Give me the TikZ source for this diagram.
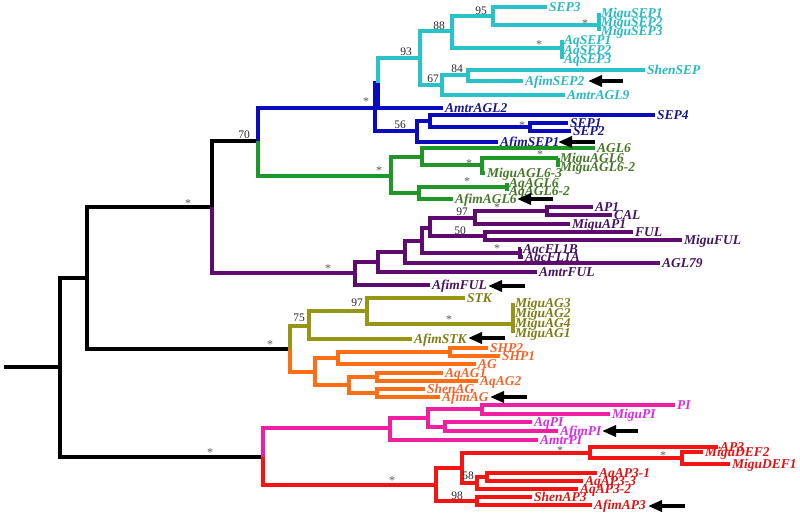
\documentclass[tikz,border=0pt]{standalone}
\usepackage{fontspec}
\setmainfont{Liberation Serif}
\usetikzlibrary{arrows.meta}
\definecolor{cyL}{RGB}{40,195,200}
\definecolor{cyT}{RGB}{40,185,195}
\definecolor{blL}{RGB}{10,10,190}
\definecolor{blT}{RGB}{25,25,140}
\definecolor{grL}{RGB}{30,150,40}
\definecolor{grT}{RGB}{70,120,40}
\definecolor{puL}{RGB}{95,10,110}
\definecolor{puT}{RGB}{70,20,100}
\definecolor{olL}{RGB}{150,150,20}
\definecolor{olT}{RGB}{125,125,20}
\definecolor{orL}{RGB}{255,110,20}
\definecolor{orT}{RGB}{245,100,40}
\definecolor{pkL}{RGB}{240,30,160}
\definecolor{pkT}{RGB}{215,45,230}
\definecolor{rdL}{RGB}{245,20,20}
\definecolor{rdT}{RGB}{225,20,20}
\tikzset{
  br/.style={line width=3.4pt, line join=miter},
  lab/.style={font=\fontsize{13.5}{13.5}\selectfont\bfseries\itshape, inner sep=0pt, anchor=base west},
  bs/.style={font=\fontsize{11.5}{11.5}\selectfont, text=black!85, inner sep=0pt},
  star/.style={font=\fontsize{12}{12}\selectfont, text=black!65, inner sep=0pt, yshift=-2pt},
  afarrow/.style={line width=4pt, -{Triangle[length=14pt,width=11pt]}},
}
\newcommand{\tp}[4]{\coordinate (#1) at (#2); \node[lab,text=#4] (#1l) at ([xshift=2pt,yshift=-4.5pt]#1) {#3};}
\newcommand{\eg}[3]{\draw[br,#1] (#2) |- (#3);}
\newcommand{\af}[4]{\coordinate (#1t) at (#3,#4); \coordinate (#1h) at (#2,#4); \draw[afarrow] (#1t) -- (#1h);}
\begin{document}
\begin{tikzpicture}[x=1pt,y=-1pt]
\useasboundingbox (0,0) rectangle (800,516);
% internal nodes
\coordinate (stub) at (4,367);
\coordinate (R) at (60,367);
\coordinate (A) at (87,278);
\coordinate (C) at (212,207);
\coordinate (D) at (258,141);
\coordinate (OA) at (290,349);
\coordinate (PR) at (263,457);
\coordinate (BL) at (375,108);
\coordinate (BL2) at (378,83);
\coordinate (CY) at (420,58);
\coordinate (C88) at (452,31);
\coordinate (C95) at (493,16);
\coordinate (CMi) at (599,25);
\coordinate (CAq) at (562,48);
\coordinate (C67) at (442,85);
\coordinate (C84) at (468,75);
\coordinate (SEPc) at (417,131);
\coordinate (S4) at (430,121);
\coordinate (S12) at (530,127);
\coordinate (GR) at (391,176);
\coordinate (G1) at (422,157);
\coordinate (G3) at (482,165);
\coordinate (G4) at (558,158);
\coordinate (G2) at (419,193);
\coordinate (G5) at (507,187);
\coordinate (PU) at (355,273);
\coordinate (P1) at (378,262);
\coordinate (P2) at (405,252);
\coordinate (P3) at (422,241);
\coordinate (P4) at (430,228);
\coordinate (P97) at (475,218);
\coordinate (PAC) at (547,211);
\coordinate (P50) at (485,236);
\coordinate (P5) at (520,253);
\coordinate (OL) at (309,326);
\coordinate (O97) at (367,311);
\coordinate (OM) at (513,324);
\coordinate (OR) at (315,372);
\coordinate (O1) at (338,358);
\coordinate (OS) at (450,352);
\coordinate (O2) at (349,385);
\coordinate (O3) at (377,377);
\coordinate (O4) at (377,393);
\coordinate (PK) at (390,428);
\coordinate (K1) at (428,418);
\coordinate (K2) at (482,409);
\coordinate (K3) at (445,427);
\coordinate (RD) at (436,485);
\coordinate (R1) at (462,468);
\coordinate (R2) at (590,453);
\coordinate (R3) at (682,458);
\coordinate (R58) at (477,483);
\coordinate (R4) at (487,477);
\coordinate (R98) at (477,501);
% leaves
\tp{SEPiii}{547,7}{SEP3}{cyT}
\tp{MSi}{599,13}{MiguSEP1}{cyT}
\tp{MSii}{599,22}{MiguSEP2}{cyT}
\tp{MSiii}{599,31}{MiguSEP3}{cyT}
\tp{ASi}{562,40}{AqSEP1}{cyT}
\tp{ASii}{562,50}{AqSEP2}{cyT}
\tp{ASiii}{562,59}{AqSEP3}{cyT}
\tp{ShS}{645,70}{ShenSEP}{cyT}
\tp{AfS}{523,81}{AfimSEP2}{cyT}
\tp{AmG}{565,95}{AmtrAGL9}{cyT}
\tp{AmGii}{443,108}{AmtrAGL2}{blT}
\tp{SEPiv}{655,115}{SEP4}{blT}
\tp{SEPi}{568,123}{SEP1}{blT}
\tp{SEPii}{571,131}{SEP2}{blT}
\tp{AfSi}{498,142}{AfimSEP1}{blT}
\tp{AGLvi}{595,148}{AGL6}{grT}
\tp{MAi}{558,158}{MiguAGL6}{grT}
\tp{MAii}{558,167}{MiguAGL6-2}{grT}
\tp{MAiii}{485,173}{MiguAGL6-3}{grT}
\tp{QAi}{507,183}{AqAGL6}{grT}
\tp{QAii}{507,191}{AqAGL6-2}{grT}
\tp{FA}{453,199}{AfimAGL6}{grT}
\tp{APi}{593,207}{AP1}{puT}
\tp{CAL}{612,215}{CAL}{puT}
\tp{MAP}{570,224}{MiguAP1}{puT}
\tp{FUL}{633,232}{FUL}{puT}
\tp{MFUL}{682,240}{MiguFUL}{puT}
\tp{QFB}{521,249}{AqcFL1B}{puT}
\tp{QFA}{523,257}{AqcFL1A}{puT}
\tp{AGLlxxix}{660,263}{AGL79}{puT}
\tp{AmF}{537,272}{AmtrFUL}{puT}
\tp{AfF}{430,285}{AfimFUL}{puT}
\tp{STK}{465,298}{STK}{olT}
\tp{MGiii}{513,303}{MiguAG3}{olT}
\tp{MGii}{513,313}{MiguAG2}{olT}
\tp{MGiv}{513,323}{MiguAG4}{olT}
\tp{MGi}{513,333}{MiguAG1}{olT}
\tp{AfSTK}{412,339}{AfimSTK}{olT}
\tp{SHPii}{488,348}{SHP2}{orT}
\tp{SHPi}{500,356}{SHP1}{orT}
\tp{AG}{476,364}{AG}{orT}
\tp{QGi}{443,373}{AqAG1}{orT}
\tp{QGii}{478,381}{AqAG2}{orT}
\tp{ShG}{425,389}{ShenAG}{orT}
\tp{AfG}{440,397}{AfimAG}{orT}
\tp{PI}{675,405}{PI}{pkT}
\tp{MPI}{610,414}{MiguPI}{pkT}
\tp{QPI}{532,422}{AqPI}{pkT}
\tp{FPI}{558,431}{AfimPI}{pkT}
\tp{TPI}{538,440}{AmtrPI}{pkT}
\tp{APiii}{718,447}{AP3}{rdT}
\tp{MDii}{703,452}{MiguDEF2}{rdT}
\tp{MDi}{730,464}{MiguDEF1}{rdT}
\tp{QPi}{597,473}{AqAP3-1}{rdT}
\tp{QPiii}{583,481}{AqAP3-3}{rdT}
\tp{QPii}{578,489}{AqAP3-2}{rdT}
\tp{ShP}{532,497}{ShenAP3}{rdT}
\tp{AfP}{592,505}{AfimAP3}{rdT}
% black backbone
\draw[br] (stub) -- (R);
\eg{black}{R}{A}
\eg{black}{R}{PR}
\eg{black}{A}{C}
\eg{black}{A}{OA}
\eg{black}{C}{D}
% purple
\eg{puL}{C}{PU}
\eg{puL}{PU}{P1}\eg{puL}{PU}{AfF}
\eg{puL}{P1}{P2}\eg{puL}{P1}{AmF}
\eg{puL}{P2}{P3}\eg{puL}{P2}{AGLlxxix}
\eg{puL}{P3}{P4}\eg{puL}{P3}{P5}
\eg{puL}{P4}{P97}\eg{puL}{P4}{P50}
\eg{puL}{P97}{PAC}\eg{puL}{P97}{MAP}
\eg{puL}{PAC}{APi}\eg{puL}{PAC}{CAL}
\eg{puL}{P50}{FUL}\eg{puL}{P50}{MFUL}
\eg{puL}{P5}{QFB}\eg{puL}{P5}{QFA}
% blue
\eg{blL}{D}{BL}
\eg{blL}{BL}{BL2}\eg{blL}{BL}{SEPc}
\eg{blL}{BL2}{AmGii}
\eg{blL}{SEPc}{S4}\eg{blL}{SEPc}{AfSi}
\eg{blL}{S4}{SEPiv}\eg{blL}{S4}{S12}
\eg{blL}{S12}{SEPi}\eg{blL}{S12}{SEPii}
% cyan
\eg{cyL}{BL2}{CY}
\eg{cyL}{CY}{C88}\eg{cyL}{CY}{C67}
\eg{cyL}{C88}{C95}\eg{cyL}{C88}{CAq}
\eg{cyL}{C95}{SEPiii}\eg{cyL}{C95}{CMi}
\eg{cyL}{CMi}{MSi}\eg{cyL}{CMi}{MSii}\eg{cyL}{CMi}{MSiii}
\eg{cyL}{CAq}{ASi}\eg{cyL}{CAq}{ASii}\eg{cyL}{CAq}{ASiii}
\eg{cyL}{C67}{C84}\eg{cyL}{C67}{AmG}
\eg{cyL}{C84}{ShS}\eg{cyL}{C84}{AfS}
% green
\eg{grL}{D}{GR}
\eg{grL}{GR}{G1}\eg{grL}{GR}{G2}
\eg{grL}{G1}{AGLvi}\eg{grL}{G1}{G3}
\eg{grL}{G3}{G4}\eg{grL}{G3}{MAiii}
\eg{grL}{G4}{MAi}\eg{grL}{G4}{MAii}
\eg{grL}{G2}{G5}\eg{grL}{G2}{FA}
\eg{grL}{G5}{QAi}\eg{grL}{G5}{QAii}
% olive
\eg{olL}{OA}{OL}
\eg{olL}{OL}{O97}\eg{olL}{OL}{AfSTK}
\eg{olL}{O97}{STK}\eg{olL}{O97}{OM}
\eg{olL}{OM}{MGiii}\eg{olL}{OM}{MGii}\eg{olL}{OM}{MGiv}\eg{olL}{OM}{MGi}
% orange
\eg{orL}{OA}{OR}
\eg{orL}{OR}{O1}\eg{orL}{OR}{O2}
\eg{orL}{O1}{OS}\eg{orL}{O1}{AG}
\eg{orL}{OS}{SHPii}\eg{orL}{OS}{SHPi}
\eg{orL}{O2}{O3}\eg{orL}{O2}{O4}
\eg{orL}{O3}{QGi}\eg{orL}{O3}{QGii}
\eg{orL}{O4}{ShG}\eg{orL}{O4}{AfG}
% pink
\eg{pkL}{PR}{PK}
\eg{pkL}{PK}{K1}\eg{pkL}{PK}{TPI}
\eg{pkL}{K1}{K2}\eg{pkL}{K1}{K3}
\eg{pkL}{K2}{PI}\eg{pkL}{K2}{MPI}
\eg{pkL}{K3}{QPI}\eg{pkL}{K3}{FPI}
% red
\eg{rdL}{PR}{RD}
\eg{rdL}{RD}{R1}\eg{rdL}{RD}{R98}
\eg{rdL}{R1}{R2}\eg{rdL}{R1}{R58}
\eg{rdL}{R2}{APiii}\eg{rdL}{R2}{R3}
\eg{rdL}{R3}{MDii}\eg{rdL}{R3}{MDi}
\eg{rdL}{R58}{R4}\eg{rdL}{R58}{QPii}
\eg{rdL}{R4}{QPi}\eg{rdL}{R4}{QPiii}
\eg{rdL}{R98}{ShP}\eg{rdL}{R98}{AfP}
% bootstrap values
\node[bs] (b93) at (406,52) {93};
\node[bs] (b88) at (439,26) {88};
\node[bs] (b95) at (481,11) {95};
\node[bs] (b84) at (457,69) {84};
\node[bs] (b67) at (433,79) {67};
\node[bs] (b56) at (400,125) {56};
\node[bs] (b70) at (244,135) {70};
\node[bs] (b97a) at (462,212) {97};
\node[bs] (b50) at (460,231) {50};
\node[bs] (b75) at (299,318) {75};
\node[bs] (b97b) at (357,303) {97};
\node[bs] (b58) at (468,476) {58};
\node[bs] (b98) at (457,496) {98};
% stars
\node[star] (s1) at (585,22) {*};
\node[star] (s2) at (539,43) {*};
\node[star] (s3) at (366,100) {*};
\node[star] (s4) at (522,124) {*};
\node[star] (s5) at (379,169) {*};
\node[star] (s6) at (469,162) {*};
\node[star] (s7) at (540,153) {*};
\node[star] (s8) at (467,180) {*};
\node[star] (s9) at (188,202) {*};
\node[star] (s10) at (328,267) {*};
\node[star] (s11) at (497,206) {*};
\node[star] (s12) at (497,247) {*};
\node[star] (s13) at (270,343) {*};
\node[star] (s14) at (449,318) {*};
\node[star] (s15) at (210,451) {*};
\node[star] (s16) at (392,479) {*};
\node[star] (s17) at (560,449) {*};
\node[star] (s18) at (663,454) {*};
% arrows
\af{aA}{588}{623}{81}
\af{aB}{558}{595}{142}
\af{aC}{517}{553}{199}
\af{aD}{488}{525}{286}
\af{aE}{468}{505}{338}
\af{aF}{490}{527}{397}
\af{aG}{602}{638}{431}
\af{aH}{648}{685}{506}
\end{tikzpicture}
\end{document}
